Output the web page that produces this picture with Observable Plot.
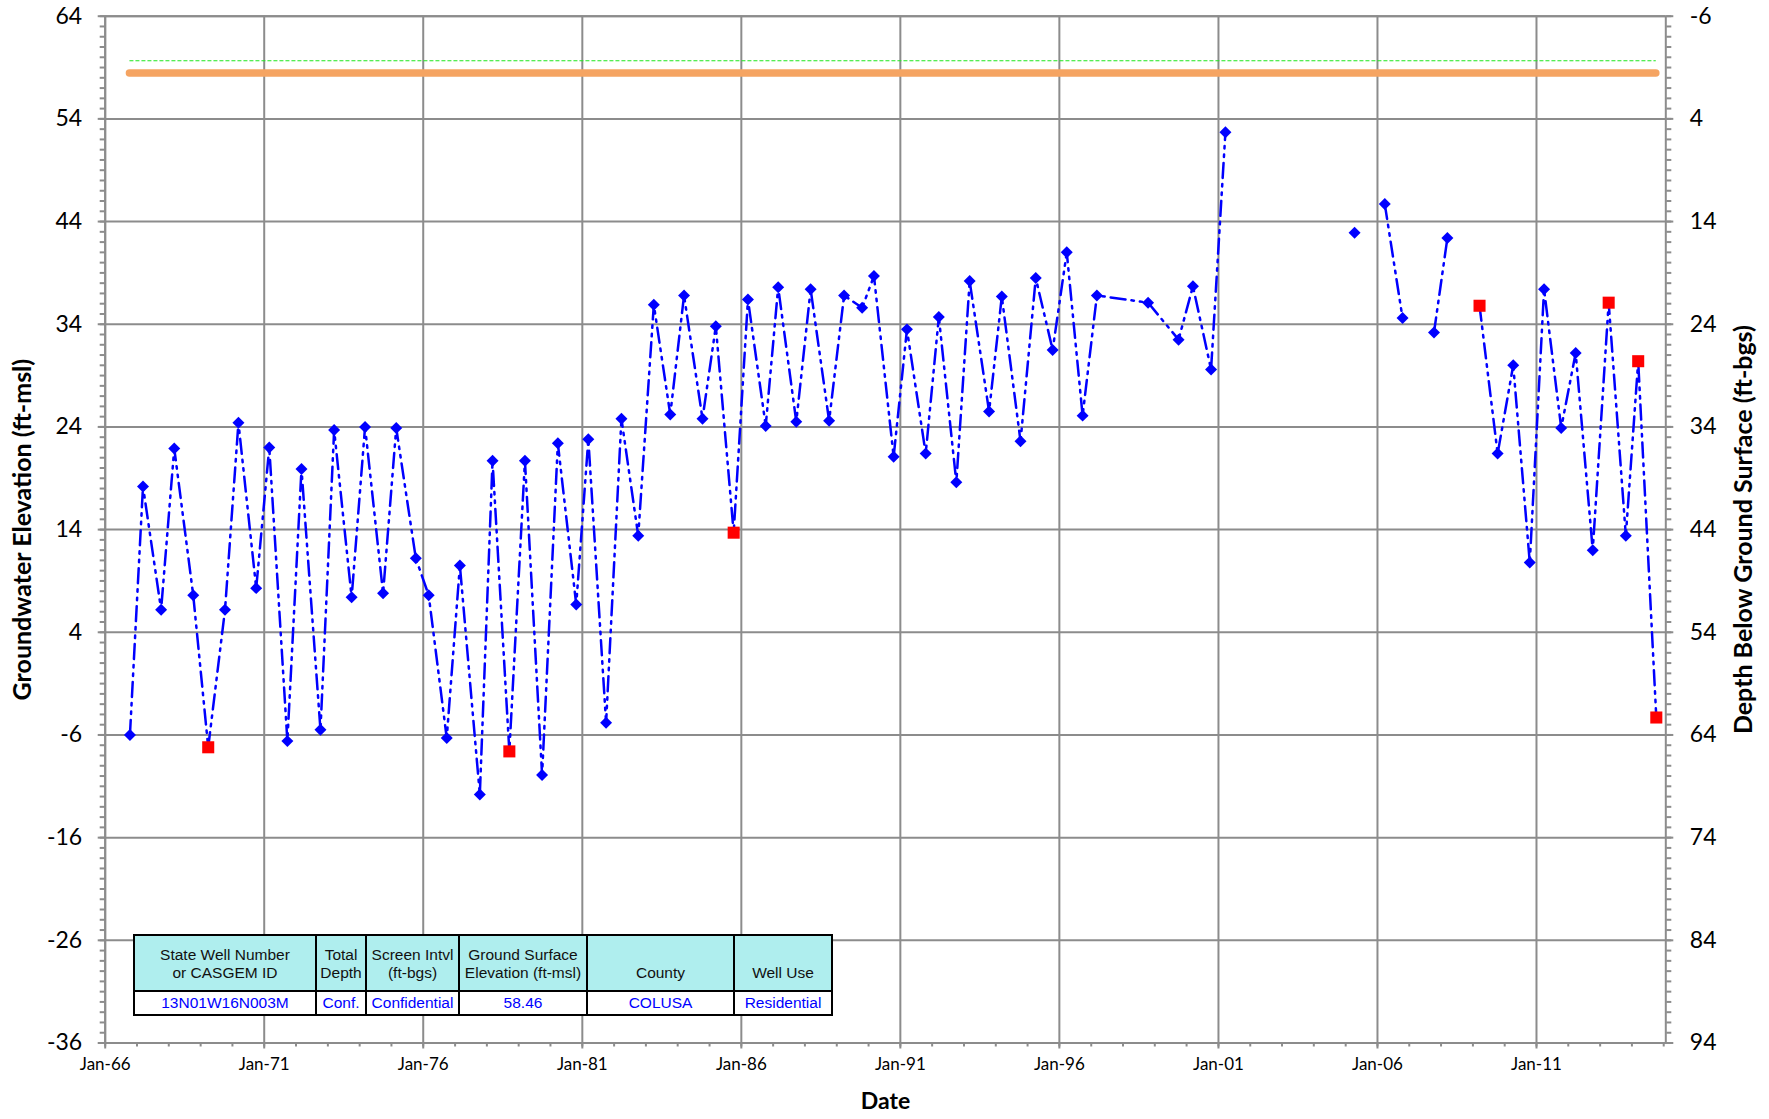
<!DOCTYPE html>
<html>
<head>
<meta charset="utf-8">
<script src="https://cdn.jsdelivr.net/npm/d3@7"></script>
<script src="https://cdn.jsdelivr.net/npm/@observablehq/plot@0.6"></script>
<style>
  html, body { margin: 0; padding: 0; background: #fff; overflow: hidden; }
  #wrap { position: relative; width: 1769px; height: 1119px; }
  #info { position: absolute; left: 133px; top: 933.5px; border-collapse: collapse; table-layout: fixed;
          font-family: "Liberation Sans", Arial, sans-serif; font-size: 15.5px; }
  #info td { border: 2px solid #000; text-align: center; padding: 0; line-height: 18px; white-space: nowrap; overflow: hidden; }
  #info tr.h td { background: #AFEEEE; color: #111; height: 46px; vertical-align: bottom; padding-bottom: 8px; }
  #info tr.v td { background: #fff; color: #0000ff; height: 22px; vertical-align: middle; }
</style>
</head>
<body>
<div id="wrap"></div>
<script>
// ---------------- data ----------------
const measureDates = [
  "1966-10-12","1967-03-11","1967-10-05","1968-03-04","1968-10-08","1969-03-29","1969-10-08","1970-03-11",
  "1970-10-01","1971-02-28","1971-09-24","1972-03-04","1972-10-08","1973-03-14","1973-10-01","1974-03-04",
  "1974-09-27","1975-02-25","1975-10-08","1976-03-04","1976-09-27","1977-02-25","1977-10-12","1978-03-07",
  "1978-09-16","1979-03-14","1979-09-27","1980-03-26","1980-10-23","1981-03-11","1981-10-01","1982-03-26",
  "1982-10-05","1983-04-02","1983-10-08","1984-03-14","1984-10-12","1985-03-14","1985-10-05","1986-03-18",
  "1986-10-08","1987-02-28","1987-09-24","1988-03-07","1988-10-05","1989-03-26","1989-10-19","1990-03-04",
  "1990-10-16","1991-03-18","1991-10-19","1992-03-18","1992-10-05","1993-03-07","1993-10-16","1994-03-11",
  "1994-10-12","1995-04-05","1995-10-16","1996-03-26","1996-09-24","1997-03-07","1998-10-16","1999-10-01",
  "2000-03-14","2000-10-08","2001-03-22","2003-01-01","2005-04-13","2005-10-01","2006-03-26","2006-10-16",
  "2007-03-15","2007-10-12","2008-03-14","2008-10-01","2009-03-18","2009-10-12","2010-04-09","2010-10-16",
  "2011-03-29","2011-10-12","2012-03-26","2012-10-08","2013-04-09","2013-10-23","2014-03-14","2014-10-08"
];
// groundwater elevation (ft-msl); null = no measurement (line break)
const elevations = [
  -6.0, 18.2, 6.2, 21.9, 7.6, -7.2, 6.2, 24.4,
  8.3, 22.0, -6.6, 19.9, -5.5, 23.7, 7.4, 24.0,
  7.8, 23.9, 11.2, 7.6, -6.3, 10.5, -11.8, 20.7,
  -7.6, 20.7, -9.9, 22.4, 6.7, 22.8, -4.8, 24.8,
  13.4, 35.9, 25.2, 36.8, 24.8, 33.8, 13.7, 36.4,
  24.1, 37.6, 24.5, 37.4, 24.6, 36.8, 35.6, 38.7,
  21.1, 33.5, 21.4, 34.7, 18.6, 38.2, 25.5, 36.7,
  22.6, 38.5, 31.5, 41.0, 25.1, 36.8, 36.1, 32.5,
  37.7, 29.6, 52.7, null, 42.9, null, 45.7, 34.6,
  null, 33.2, 42.4, null, 35.8, 21.4, 30.0, 10.8,
  37.4, 23.9, 31.2, 12.0, 36.1, 13.4, 30.4, -4.3
];
// 1 = questionable measurement (red square)
const questionable = [
  0,0,0,0,0,1,0,0,
  0,0,0,0,0,0,0,0,
  0,0,0,0,0,0,0,0,
  1,0,0,0,0,0,0,0,
  0,0,0,0,0,0,1,0,
  0,0,0,0,0,0,0,0,
  0,0,0,0,0,0,0,0,
  0,0,0,0,0,0,0,0,
  0,0,0,0,0,0,0,0,
  0,0,0,0,1,0,0,0,
  0,0,0,0,1,0,1,1
];
const groundSurfaceElevation = 58.46;
const referencePointElevation = 59.66;

const elevTicks = [64, 54, 44, 34, 24, 14, 4, -6, -16, -26, -36];
const depthTickLabels = [-6, 4, 14, 24, 34, 44, 54, 64, 74, 84, 94];
const dateTicks = ["1966-01-01","1971-01-01","1976-01-01","1981-01-01","1986-01-01",
                   "1991-01-01","1996-01-01","2001-01-01","2006-01-01","2011-01-01"];
const dateTickLabels = ["Jan-66","Jan-71","Jan-76","Jan-81","Jan-86","Jan-91","Jan-96","Jan-01","Jan-06","Jan-11"];
const xDomain = ["1966-01-01", "2015-01-25"];

const tableHeaders = [["State Well Number","or CASGEM ID"],["Total","Depth"],["Screen Intvl","(ft-bgs)"],
                      ["Ground Surface","Elevation (ft-msl)"],["County"],["Well Use"]];
const tableValues = ["13N01W16N003M","Conf.","Confidential","58.46","COLUSA","Residential"];
const tableColWidths = [182, 50, 93, 128, 147, 98];

// ---------------- build ----------------
const rows = measureDates.map((d, i) => ({date: new Date(d + "T00:00:00Z"), elev: elevations[i], q: questionable[i]}));
const valid = rows.filter(r => r.elev != null);
const firstDate = valid[0].date, lastDate = valid[valid.length - 1].date;
const majorDates = dateTicks.map(d => new Date(d + "T00:00:00Z"));
const yearDates = d3.utcYear.range(new Date("1966-01-01T00:00:00Z"), new Date("2015-01-02T00:00:00Z"));
const minorElev = d3.range(-36, 65, 1);
const grey = "#8c8c8c";

const chart = Plot.plot({
  width: 1769, height: 1119,
  marginLeft: 104.7, marginRight: 103.7, marginTop: 15.7, marginBottom: 76.5,
  style: {fontFamily: "Lato, sans-serif", color: "#000", background: "#fff", overflow: "visible"},
  x: {type: "utc", domain: xDomain.map(d => new Date(d + "T00:00:00Z")), label: null},
  y: {domain: [-36, 64], label: null},
  marks: [
    Plot.gridX(majorDates, {stroke: grey, strokeOpacity: 1, strokeWidth: 2}),
    Plot.gridY(elevTicks, {stroke: grey, strokeOpacity: 1, strokeWidth: 2}),
    Plot.frame({stroke: grey, strokeWidth: 2}),
    // reference lines
    Plot.ruleY([referencePointElevation], {x1: () => firstDate, x2: () => lastDate, stroke: "#1ee61e", strokeWidth: 1.2, strokeDasharray: "4,2"}),
    Plot.ruleY([groundSurfaceElevation], {x1: () => firstDate, x2: () => lastDate, stroke: "#f5a462", strokeWidth: 7.5, strokeLinecap: "round"}),
    // series
    Plot.line(rows, {x: "date", y: "elev", stroke: "#0000ff", strokeWidth: 2.5, strokeDasharray: "15,6,2.5,6,2.5,6"}),
    Plot.dot(valid.filter(r => !r.q), {x: "date", y: "elev", symbol: "diamond2", r: 5.4, fill: "#0000ff", stroke: null}),
    Plot.dot(valid.filter(r => r.q), {x: "date", y: "elev", symbol: "square", r: 6.8, fill: "#ff0000", stroke: null}),
    // y axes: minor ticks, major ticks, labels
    Plot.axisY(minorElev, {anchor: "left", tickSize: 5, stroke: grey, strokeWidth: 2, tickFormat: () => "", label: null}),
    Plot.axisY(elevTicks, {anchor: "left", tickSize: 7, stroke: grey, strokeWidth: 2, tickFormat: () => "", label: null}),
    Plot.axisY(elevTicks, {anchor: "left", tickSize: 0, tickPadding: 23, fontSize: 23, fill: "#000", tickFormat: d => String(d), label: null}),
    Plot.axisY(minorElev, {anchor: "right", tickSize: 5, stroke: grey, strokeWidth: 2, tickFormat: () => "", label: null}),
    Plot.axisY(elevTicks, {anchor: "right", tickSize: 7, stroke: grey, strokeWidth: 2, tickFormat: () => "", label: null}),
    Plot.axisY(elevTicks, {anchor: "right", tickSize: 0, tickPadding: 24, fontSize: 23, fill: "#000",
      tickFormat: d => String(depthTickLabels[elevTicks.indexOf(d)]), label: null}),
    // x axis
    Plot.axisX(yearDates, {anchor: "bottom", tickSize: 4, stroke: grey, strokeWidth: 2, tickFormat: () => "", label: null}),
    Plot.axisX(majorDates, {anchor: "bottom", tickSize: 6, stroke: grey, strokeWidth: 2, tickFormat: () => "", label: null}),
    Plot.axisX(majorDates, {anchor: "bottom", tickSize: 0, tickPadding: 14.5, fontSize: 17, fill: "#000",
      tickFormat: d => dateTickLabels[majorDates.findIndex(m => +m === +d)], label: null}),
    // axis titles
    Plot.text(["Date"], {text: d => d, frameAnchor: "bottom", dy: 66, fontSize: 23, fontWeight: "bold", fill: "#000"}),
    Plot.text(["Groundwater Elevation (ft-msl)"], {text: d => d, frameAnchor: "left", textAnchor: "middle", dx: -82, rotate: -90, fontSize: 25, fontWeight: "bold", fill: "#000"}),
    Plot.text(["Depth Below Ground Surface (ft-bgs)"], {text: d => d, frameAnchor: "right", textAnchor: "middle", dx: 78, rotate: -90, fontSize: 25, fontWeight: "bold", fill: "#000"})
  ]
});

const wrap = document.getElementById("wrap");
wrap.appendChild(chart);

// info table overlay
const table = d3.select(wrap).append("table").attr("id", "info");
const cg = table.append("colgroup");
tableColWidths.forEach(w => cg.append("col").style("width", w + "px"));
const hr = table.append("tr").attr("class", "h");
tableHeaders.forEach(lines => {
  const td = hr.append("td");
  lines.forEach((l, i) => { if (i) td.append("br"); td.append("span").text(l); });
});
const vr = table.append("tr").attr("class", "v");
tableValues.forEach(v => vr.append("td").text(v));
</script>
</body>
</html>
